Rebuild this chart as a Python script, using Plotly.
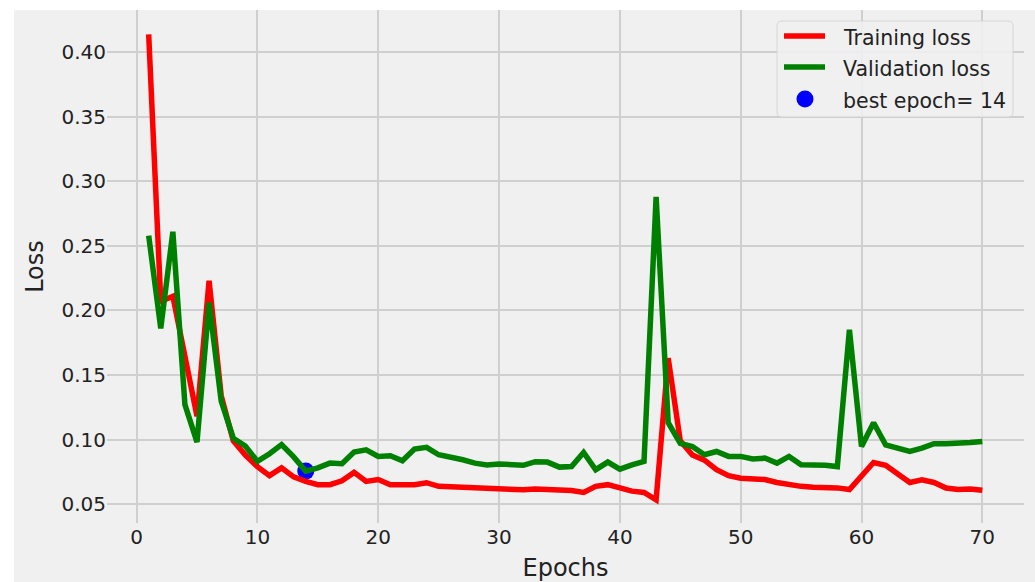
import plotly.graph_objects as go

epochs = list(range(1, 71))

train_loss = [
    0.414, 0.207, 0.211, 0.165, 0.118, 0.223, 0.134, 0.099, 0.088, 0.079,
    0.072, 0.078, 0.071, 0.0675, 0.065, 0.065, 0.068, 0.0745, 0.0675, 0.069,
    0.065, 0.065, 0.065, 0.0665, 0.0637, 0.0633, 0.0628, 0.062, 0.0617, 0.0612,
    0.061, 0.061, 0.0617, 0.0615, 0.0612, 0.0605, 0.059, 0.0637, 0.065, 0.0625,
    0.060, 0.059, 0.0533, 0.163, 0.099, 0.088, 0.084, 0.0766, 0.072, 0.070,
    0.0693, 0.069, 0.0667, 0.065, 0.0637, 0.063, 0.063, 0.0625, 0.0612, 0.072,
    0.0822, 0.080, 0.0735, 0.0667, 0.0688, 0.0667, 0.0624, 0.0612, 0.0617, 0.0607,
]

val_loss = [
    0.258, 0.186, 0.261, 0.127, 0.098, 0.206, 0.130, 0.101, 0.095, 0.083,
    0.089, 0.096, 0.0865, 0.0755, 0.078, 0.0817, 0.0812, 0.0903, 0.092, 0.0869,
    0.0874, 0.0835, 0.0926, 0.0939, 0.0882, 0.0864, 0.0843, 0.0817, 0.0802, 0.081,
    0.081, 0.080, 0.0828, 0.0825, 0.0786, 0.079, 0.090, 0.0766, 0.0825, 0.077,
    0.0804, 0.083, 0.288, 0.113, 0.097, 0.0946, 0.0882, 0.0907, 0.0869, 0.0869,
    0.0849, 0.0856, 0.0817, 0.0869, 0.0804, 0.0804, 0.080, 0.079, 0.185, 0.0946,
    0.113, 0.0959, 0.0933, 0.0907, 0.0933, 0.0967, 0.0967, 0.0967, 0.0977, 0.0985,
]

best_epoch = 14

series_names = ["Training loss", "Validation loss", "best epoch= 14"]
series_colors = ["#ff0000", "#008000", "#0000ff"]

x_ticks = [0, 10, 20, 30, 40, 50, 60, 70]
y_ticks = [0.05, 0.10, 0.15, 0.20, 0.25, 0.30, 0.35, 0.40]
y_tick_text = ["0.05", "0.10", "0.15", "0.20", "0.25", "0.30", "0.35", "0.40"]

FONT = "DejaVu Sans"
BG = "#f0f0f0"
GRID = "#cfcfcf"
TXT = "#222222"

fig = go.Figure()

fig.add_trace(go.Scatter(
    x=[best_epoch], y=[val_loss[best_epoch - 1]], mode="markers",
    marker=dict(color=series_colors[2], size=17, line=dict(width=0)),
    name=series_names[2], showlegend=False,
))
fig.add_trace(go.Scatter(
    x=epochs, y=train_loss, mode="lines",
    line=dict(color=series_colors[0], width=5.5),
    name=series_names[0], showlegend=False,
))
fig.add_trace(go.Scatter(
    x=epochs, y=val_loss, mode="lines",
    line=dict(color=series_colors[1], width=5.5),
    name=series_names[1], showlegend=False,
))

L, R, T, B = 107, 11, 10, 59
W, H = 1035, 582
pw, ph = W - L - R, H - T - B


def px(x):
    return (x - L) / pw


def py(y):
    return (H - B - y) / ph


# legend box (manual, to match the matplotlib-style legend)
bx0, bx1, by0, by1, rr = 777, 1013, 21, 117, 5
box_path = (
    f"M {px(bx0 + rr)},{py(by0)} L {px(bx1 - rr)},{py(by0)} "
    f"Q {px(bx1)},{py(by0)} {px(bx1)},{py(by0 + rr)} "
    f"L {px(bx1)},{py(by1 - rr)} Q {px(bx1)},{py(by1)} {px(bx1 - rr)},{py(by1)} "
    f"L {px(bx0 + rr)},{py(by1)} Q {px(bx0)},{py(by1)} {px(bx0)},{py(by1 - rr)} "
    f"L {px(bx0)},{py(by0 + rr)} Q {px(bx0)},{py(by0)} {px(bx0 + rr)},{py(by0)} Z"
)

shapes = [
    dict(type="rect", xref="paper", yref="paper",
         x0=-L / pw - 0.01, x1=(14 - L) / pw, y0=-B / ph - 0.01, y1=1 + T / ph + 0.01,
         fillcolor="#ffffff", line=dict(width=0), layer="above"),
    dict(type="rect", xref="paper", yref="paper",
         x0=-L / pw - 0.01, x1=1 + R / pw + 0.01, y0=1.0, y1=1 + T / ph + 0.01,
         fillcolor="#ffffff", line=dict(width=0), layer="above"),
    dict(type="path", xref="paper", yref="paper", path=box_path,
         fillcolor=BG, opacity=0.9, line=dict(color="#d4d4d4", width=1), layer="above"),
]

annotations = []
row_y = [36, 67, 99]
for i, name in enumerate(series_names):
    if i < 2:
        shapes.append(dict(type="line", xref="paper", yref="paper",
                           x0=px(784), x1=px(825), y0=py(row_y[i]), y1=py(row_y[i]),
                           line=dict(color=series_colors[i], width=5.5), layer="above"))
    else:
        shapes.append(dict(type="circle", xref="paper", yref="paper",
                           xsizemode="pixel", ysizemode="pixel",
                           xanchor=px(805), yanchor=py(row_y[i]),
                           x0=-8.5, x1=8.5, y0=-8.5, y1=8.5,
                           fillcolor=series_colors[i], line=dict(width=0), layer="above"))
    annotations.append(dict(xref="paper", yref="paper", x=px(841), y=py(row_y[i] + 2),
                            xanchor="left", yanchor="middle", showarrow=False,
                            text=name, font=dict(family=FONT, size=20.5, color=TXT)))

fig.update_layout(
    width=W, height=H,
    margin=dict(l=L, r=R, t=T, b=B, pad=0, autoexpand=False),
    paper_bgcolor=BG, plot_bgcolor=BG,
    font=dict(family=FONT, size=20, color=TXT),
    showlegend=False,
    xaxis=dict(
        range=[-2.45, 73.45], tickvals=x_ticks, automargin=False,
        showgrid=True, gridcolor=GRID, gridwidth=1.6,
        zeroline=False, showline=False, ticks="",
        tickfont=dict(family=FONT, size=20, color=TXT),
        title=dict(text="Epochs", font=dict(family=FONT, size=24, color=TXT), standoff=12),
    ),
    yaxis=dict(
        range=[0.0353, 0.4328], tickvals=y_ticks, ticktext=y_tick_text, automargin=False,
        showgrid=True, gridcolor=GRID, gridwidth=1.6,
        zeroline=False, showline=False, ticks="",
        tickfont=dict(family=FONT, size=20, color=TXT),
        title=dict(text="Loss", font=dict(family=FONT, size=24, color=TXT), standoff=11),
    ),
    shapes=shapes,
    annotations=annotations,
)

fig.write_html("out.html")
